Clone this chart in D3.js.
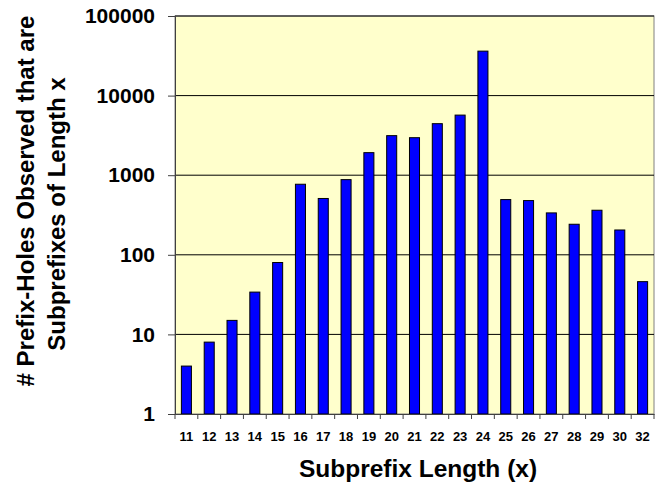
<!DOCTYPE html>
<html>
<head>
<meta charset="utf-8">
<script src="https://cdn.jsdelivr.net/npm/d3@7"></script>
<style>
  body { margin: 0; background: #fff; }
  svg text { font-family: "Liberation Sans", Arial, sans-serif; font-weight: bold; fill: #000; }
</style>
</head>
<body>
<svg width="662" height="491"></svg>
<script>
var lengths = ["11", "12", "13", "14", "15", "16", "17", "18", "19", "20", "21",
               "22", "23", "24", "25", "26", "27", "28", "29", "30", "32"];
var holes = [4, 8, 15, 34, 80, 770, 510, 880, 1920, 3140, 2960,
             4440, 5690, 36200, 494, 480, 336, 242, 363, 205, 46];
var yTicks = [1, 10, 100, 1000, 10000, 100000];

var svg = d3.select("svg"),
    margin = {top: 16, right: 8, bottom: 77, left: 175},
    width = +svg.attr("width") - margin.left - margin.right,
    height = +svg.attr("height") - margin.top - margin.bottom;

var gap = 0.56;
var x = d3.scaleBand().domain(lengths).range([0, width])
    .paddingInner(gap).paddingOuter(gap / 2);
var y = d3.scaleLog().domain([1, 100000]).range([height, 0]);

var g = svg.append("g")
    .attr("transform", "translate(" + margin.left + "," + margin.top + ")");

// plot background
g.append("rect")
    .attr("width", width)
    .attr("height", height)
    .attr("fill", "#ffffcc")
    .attr("stroke", "#808080");

// gridlines
g.selectAll(".grid")
    .data(yTicks.slice(1))
    .enter().append("line")
    .attr("x1", 0).attr("x2", width)
    .attr("y1", function(d) { return y(d); })
    .attr("y2", function(d) { return y(d); })
    .attr("stroke", "#000")
    .attr("stroke-width", 1);

// bars
g.selectAll(".bar")
    .data(holes)
    .enter().append("rect")
    .attr("class", "bar")
    .attr("x", function(d, i) { return x(lengths[i]); })
    .attr("y", function(d) { return y(d); })
    .attr("width", x.bandwidth())
    .attr("height", function(d) { return height - y(d); })
    .attr("fill", "#0000ff")
    .attr("stroke", "#000")
    .attr("stroke-width", 1);

// y axis
var yAxis = g.append("g")
    .call(d3.axisLeft(y).tickValues(yTicks).tickFormat(d3.format("d")).tickSize(7).tickPadding(13));
yAxis.select(".domain").attr("stroke", "#404040");
yAxis.selectAll(".tick line").attr("stroke", "#404040");
yAxis.selectAll("text").style("font-size", "21px");

// x axis: labels under bars, ticks on band edges
var xAxis = g.append("g")
    .attr("transform", "translate(0," + height + ")")
    .call(d3.axisBottom(x).tickSize(0).tickPadding(18));
xAxis.select(".domain").attr("stroke", "#404040");
xAxis.selectAll("text").style("font-size", "13px");

var edges = lengths.map(function(d) { return x(d) + x.bandwidth() / 2 - x.step() / 2; });
edges.push(width);
xAxis.selectAll(".edge")
    .data(edges)
    .enter().append("line")
    .attr("x1", function(d) { return d; })
    .attr("x2", function(d) { return d; })
    .attr("y1", 0).attr("y2", 5)
    .attr("stroke", "#404040");

// axis titles
svg.append("text")
    .attr("x", 418)
    .attr("y", 477)
    .attr("text-anchor", "middle")
    .style("font-size", "24.5px")
    .text("Subprefix Length (x)");

var yTitle = svg.append("text")
    .attr("transform", "rotate(-90)")
    .attr("text-anchor", "middle")
    .style("font-size", "24px");
yTitle.append("tspan")
    .attr("x", -201).attr("y", 34)
    .text("# Prefix-Holes Observed that are");
yTitle.append("tspan")
    .attr("x", -214).attr("y", 65)
    .text("Subprefixes of Length x");
</script>
</body>
</html>
